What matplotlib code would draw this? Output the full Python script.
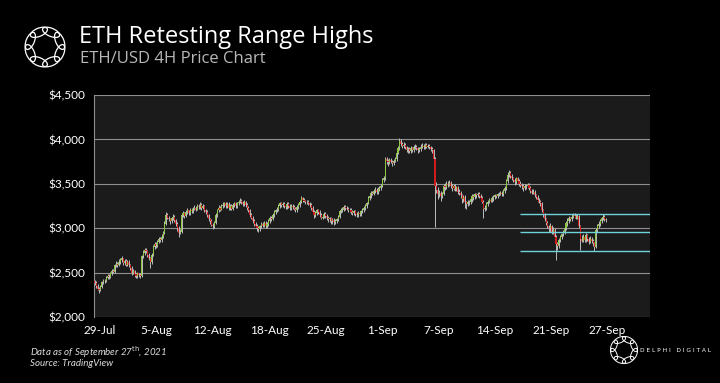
import matplotlib
matplotlib.use("Agg")
import matplotlib.pyplot as plt
from matplotlib.patches import Ellipse
import numpy as np

# ---------------- data (4H candles, 29-Jul .. 27-Sep 2021) ----------------
first_open = 2400
closes = [
    2380, 2350, 2320, 2300, 2340, 2390, 2410, 2400, 2440, 2460,
    2450, 2490, 2520, 2510, 2580, 2600, 2590, 2620, 2640, 2660,
    2610, 2630, 2590, 2620, 2580, 2550, 2500, 2520, 2480, 2460,
    2490, 2470, 2460, 2690, 2720, 2760, 2740, 2700, 2660, 2620,
    2700, 2790, 2820, 2800, 2850, 2880, 2870, 2900, 2950, 3050,
    3150, 3120, 3100, 3080, 3110, 3130, 3090, 3050, 3000, 2950,
    2960, 3150, 3170, 3140, 3180, 3200, 3170, 3210, 3190, 3220,
    3230, 3210, 3250, 3240, 3260, 3230, 3250, 3200, 3180, 3150,
    3100, 3080, 3040, 3020, 3060, 3150, 3200, 3230, 3210, 3250,
    3260, 3280, 3250, 3270, 3230, 3250, 3220, 3260, 3280, 3250,
    3280, 3300, 3310, 3290, 3270, 3300, 3260, 3230, 3200, 3150,
    3120, 3080, 3050, 3030, 3000, 2990, 3020, 3050, 3030, 3060,
    3020, 3050, 3080, 3120, 3100, 3150, 3180, 3200, 3210, 3250,
    3280, 3260, 3270, 3250, 3240, 3270, 3250, 3230, 3250, 3240,
    3220, 3200, 3240, 3260, 3300, 3340, 3320, 3310, 3290, 3300,
    3280, 3260, 3230, 3180, 3150, 3170, 3200, 3180, 3150, 3120,
    3130, 3160, 3140, 3120, 3100, 3110, 3080, 3090, 3070, 3080,
    3100, 3130, 3190, 3200, 3210, 3240, 3230, 3220, 3200, 3210,
    3180, 3170, 3190, 3160, 3150, 3170, 3160, 3190, 3200, 3230,
    3250, 3280, 3340, 3360, 3400, 3390, 3420, 3430, 3410, 3440,
    3450, 3470, 3540, 3560, 3780, 3760, 3740, 3770, 3750, 3730,
    3760, 3780, 3850, 3900, 3980, 3950, 3930, 3940, 3910, 3880,
    3890, 3870, 3900, 3880, 3910, 3920, 3900, 3880, 3890, 3920,
    3930, 3910, 3940, 3920, 3930, 3910, 3890, 3880, 3780, 3470,
    3430, 3380, 3400, 3360, 3390, 3480, 3460, 3500, 3490, 3510,
    3470, 3450, 3480, 3440, 3460, 3410, 3400, 3370, 3330, 3350,
    3290, 3270, 3300, 3290, 3330, 3360, 3350, 3380, 3370, 3390,
    3360, 3340, 3300, 3220, 3230, 3270, 3300, 3320, 3310, 3340,
    3350, 3370, 3360, 3380, 3390, 3400, 3380, 3420, 3450, 3530,
    3600, 3620, 3590, 3560, 3540, 3520, 3560, 3530, 3500, 3490,
    3470, 3450, 3480, 3470, 3490, 3450, 3420, 3400, 3410, 3370,
    3350, 3320, 3300, 3280, 3200, 3150, 3100, 3060, 3020, 3000,
    3020, 2960, 2980, 2900, 2820, 2800, 2870, 2900, 2930, 2960,
    3000, 3060, 3080, 3110, 3100, 3130, 3150, 3140, 3120, 3140,
    3020, 2880, 2860, 2900, 2870, 2920, 2880, 2850, 2880, 2860,
    2830, 2790, 2980, 3020, 3050, 3080, 3110, 3130, 3100, 3090,
]
highs = [
    2420, 2400, 2370, 2340, 2360, 2410, 2430, 2430, 2460, 2480,
    2480, 2510, 2540, 2540, 2600, 2630, 2620, 2650, 2670, 2690,
    2670, 2650, 2650, 2640, 2640, 2600, 2570, 2540, 2530, 2500,
    2510, 2500, 2490, 2700, 2750, 2780, 2780, 2750, 2720, 2680,
    2720, 2810, 2850, 2840, 2870, 2900, 2900, 2930, 2970, 3080,
    3180, 3170, 3140, 3120, 3130, 3160, 3150, 3100, 3070, 3020,
    2990, 3170, 3190, 3180, 3200, 3230, 3210, 3230, 3230, 3240,
    3260, 3250, 3270, 3270, 3290, 3280, 3270, 3260, 3220, 3200,
    3160, 3120, 3100, 3060, 3080, 3170, 3220, 3260, 3250, 3270,
    3290, 3300, 3300, 3290, 3290, 3270, 3270, 3280, 3300, 3300,
    3300, 3320, 3340, 3330, 3310, 3320, 3310, 3280, 3250, 3220,
    3170, 3140, 3100, 3070, 3050, 3030, 3040, 3070, 3070, 3080,
    3080, 3070, 3100, 3140, 3140, 3170, 3200, 3220, 3240, 3270,
    3300, 3300, 3290, 3290, 3270, 3290, 3290, 3270, 3270, 3270,
    3260, 3240, 3260, 3280, 3320, 3360, 3350, 3340, 3320, 3320,
    3320, 3300, 3280, 3250, 3200, 3190, 3220, 3220, 3200, 3170,
    3150, 3180, 3180, 3160, 3140, 3130, 3130, 3110, 3110, 3100,
    3120, 3150, 3210, 3230, 3240, 3260, 3260, 3250, 3240, 3230,
    3230, 3200, 3210, 3210, 3180, 3190, 3190, 3210, 3230, 3250,
    3270, 3300, 3360, 3390, 3420, 3420, 3440, 3460, 3450, 3460,
    3480, 3500, 3560, 3590, 3800, 3800, 3780, 3790, 3790, 3770,
    3780, 3800, 3870, 3930, 4020, 4000, 3970, 3970, 3960, 3930,
    3920, 3910, 3930, 3920, 3940, 3950, 3940, 3920, 3920, 3950,
    3960, 3950, 3960, 3960, 3950, 3950, 3930, 3910, 3890, 3800,
    3520, 3460, 3430, 3420, 3410, 3500, 3510, 3530, 3530, 3540,
    3530, 3500, 3500, 3500, 3480, 3480, 3440, 3420, 3390, 3370,
    3370, 3310, 3320, 3320, 3350, 3380, 3380, 3400, 3400, 3410,
    3410, 3390, 3360, 3320, 3260, 3290, 3320, 3340, 3340, 3360,
    3370, 3390, 3390, 3400, 3410, 3420, 3420, 3440, 3470, 3550,
    3630, 3650, 3640, 3610, 3580, 3560, 3580, 3580, 3550, 3530,
    3510, 3500, 3500, 3500, 3510, 3510, 3470, 3440, 3440, 3430,
    3390, 3370, 3340, 3320, 3290, 3220, 3170, 3120, 3080, 3040,
    3060, 3040, 3010, 3000, 2920, 2850, 2890, 2920, 2950, 2980,
    3020, 3080, 3110, 3140, 3130, 3160, 3170, 3170, 3160, 3160,
    3150, 3040, 2920, 2940, 2920, 2950, 2940, 2900, 2910, 2900,
    2880, 2850, 3000, 3050, 3080, 3100, 3130, 3160, 3150, 3120,
]
lows = [
    2360, 2330, 2300, 2270, 2290, 2330, 2370, 2380, 2390, 2430,
    2430, 2440, 2470, 2490, 2500, 2560, 2560, 2570, 2600, 2620,
    2590, 2590, 2570, 2570, 2560, 2530, 2470, 2480, 2450, 2440,
    2440, 2450, 2440, 2450, 2670, 2700, 2720, 2680, 2640, 2550,
    2600, 2690, 2770, 2780, 2790, 2830, 2850, 2850, 2890, 2940,
    3040, 3100, 3080, 3050, 3060, 3090, 3070, 3020, 2970, 2900,
    2930, 2950, 3130, 3120, 3130, 3160, 3150, 3150, 3170, 3170,
    3200, 3190, 3200, 3220, 3220, 3210, 3220, 3180, 3160, 3130,
    3080, 3050, 3020, 2990, 3000, 3050, 3130, 3180, 3190, 3200,
    3230, 3240, 3230, 3230, 3210, 3200, 3200, 3200, 3240, 3230,
    3230, 3260, 3280, 3270, 3250, 3250, 3240, 3210, 3180, 3130,
    3100, 3060, 3030, 3000, 2970, 2960, 2970, 3000, 3010, 3010,
    3000, 3000, 3030, 3060, 3080, 3090, 3130, 3160, 3180, 3190,
    3230, 3240, 3240, 3230, 3220, 3220, 3230, 3210, 3210, 3220,
    3200, 3180, 3180, 3220, 3240, 3280, 3300, 3290, 3270, 3270,
    3260, 3240, 3210, 3160, 3120, 3130, 3150, 3160, 3130, 3100,
    3100, 3110, 3120, 3090, 3070, 3070, 3050, 3050, 3040, 3050,
    3060, 3080, 3120, 3170, 3180, 3190, 3210, 3200, 3180, 3180,
    3160, 3150, 3150, 3140, 3130, 3130, 3140, 3140, 3170, 3180,
    3210, 3230, 3270, 3320, 3340, 3370, 3370, 3400, 3390, 3390,
    3420, 3430, 3460, 3520, 3540, 3720, 3700, 3720, 3730, 3700,
    3710, 3740, 3760, 3830, 3880, 3930, 3900, 3900, 3890, 3860,
    3850, 3850, 3850, 3860, 3860, 3890, 3880, 3850, 3860, 3870,
    3900, 3890, 3890, 3900, 3900, 3890, 3870, 3850, 3760, 3010,
    3400, 3330, 3350, 3310, 3340, 3370, 3430, 3440, 3460, 3470,
    3450, 3420, 3430, 3420, 3420, 3390, 3370, 3340, 3280, 3300,
    3230, 3220, 3250, 3260, 3270, 3300, 3320, 3330, 3340, 3350,
    3340, 3320, 3280, 3110, 3190, 3210, 3250, 3280, 3290, 3290,
    3310, 3330, 3340, 3340, 3360, 3370, 3360, 3360, 3400, 3430,
    3510, 3580, 3570, 3540, 3520, 3490, 3500, 3510, 3480, 3460,
    3440, 3420, 3430, 3440, 3450, 3430, 3400, 3380, 3380, 3350,
    3330, 3300, 3280, 3250, 3180, 3130, 3080, 3040, 3000, 2960,
    2960, 2940, 2930, 2880, 2640, 2760, 2780, 2840, 2880, 2910,
    2940, 2980, 3030, 3060, 3080, 3080, 3110, 3120, 3100, 3100,
    3000, 2750, 2840, 2840, 2850, 2850, 2860, 2820, 2830, 2830,
    2800, 2740, 2780, 2960, 3000, 3030, 3060, 3090, 3080, 3070,
]
range_levels = [3160, 2960, 2745]
x_labels = ["29-Jul", "5-Aug", "12-Aug", "18-Aug", "25-Aug",
            "1-Sep", "7-Sep", "14-Sep", "21-Sep", "27-Sep"]
y_ticks = [2000, 2500, 3000, 3500, 4000, 4500]

# ---------------- figure ----------------
W, H = 720, 383
fig = plt.figure(figsize=(W / 100, H / 100), dpi=100, facecolor="black")

def fx(px):
    return px / W

def fy(py):
    return 1 - py / H

ax = fig.add_axes([fx(94), fy(317), fx(650) - fx(94), fy(95) - fy(317)])
ax.set_facecolor("#1b1b1b")

closes_a = np.array(closes, dtype=float)
opens_a = np.concatenate([[first_open], closes_a[:-1]])
highs_a = np.maximum(np.array(highs, dtype=float), np.maximum(opens_a, closes_a))
lows_a = np.minimum(np.array(lows, dtype=float), np.minimum(opens_a, closes_a))
idx = np.arange(len(closes_a))

up = closes_a >= opens_a
body_col = np.where(up, "#8dc63f", "#d01c1c")
body_bot = np.minimum(opens_a, closes_a)
body_h = np.maximum(np.abs(closes_a - opens_a), 8)

for yv in y_ticks:
    ax.axhline(yv, color="#8f8f8f", lw=0.8, zorder=1)

ax.vlines(idx, lows_a, highs_a, color="#bdbdbd", lw=0.7, zorder=2)
ax.bar(idx, body_h, bottom=body_bot, width=0.75, color=body_col, lw=0, zorder=3)

for lv in range_levels:
    ax.hlines(lv, 298.5, 390, color="#6fd3dc", lw=1.0, zorder=4)

ax.set_xlim(-0.5, 390)
ax.set_ylim(2000, 4500)
ax.set_yticks(y_ticks)
ax.set_yticklabels([f"${v:,}" for v in y_ticks])
ax.set_xticks([3.7 + 39.6 * k for k in range(len(x_labels))])
ax.set_xticklabels(x_labels)
ax.tick_params(axis="both", colors="white", labelsize=8.5, length=0, pad=6)
for lab in ax.get_xticklabels() + ax.get_yticklabels():
    lab.set_family("Lato")
for s in ["top", "right", "bottom"]:
    ax.spines[s].set_visible(False)
ax.spines["left"].set_color("#8f8f8f")
ax.spines["left"].set_linewidth(0.8)

# ---------------- titles ----------------
fig.text(fx(79), fy(37), "ETH Retesting Range Highs", color="white",
         fontsize=17, family="Open Sans", va="center", ha="left")
fig.text(fx(80), fy(59), "ETH/USD 4H Price Chart", color="#b8b8b8",
         fontsize=12, family="Open Sans", va="center", ha="left")

# footnotes
fig.text(fx(30), fy(352), r"Data as of September 27$^{\mathrm{th}}$, 2021", color="#dddddd",
         fontsize=7, style="italic", family="Lato", va="center", ha="left")
fig.text(fx(30), fy(364), "Source: TradingView", color="#dddddd",
         fontsize=7, style="italic", family="Lato", va="center", ha="left")

# ---------------- logos ----------------
def draw_logo(cx, cy, size, lw):
    lax = fig.add_axes([fx(cx - size / 2), fy(cy + size / 2), size / W, size / H])
    lax.set_xlim(-1.1, 1.1)
    lax.set_ylim(-1.1, 1.1)
    lax.set_aspect("equal")
    lax.axis("off")
    for k in range(8):
        th = 2 * np.pi * k / 8 + np.pi / 8
        cxe, cye = 0.7 * np.cos(th), 0.7 * np.sin(th)
        lax.add_patch(Ellipse((cxe, cye), 0.8, 0.36, angle=np.degrees(th) + 90,
                              fill=False, ec="white", lw=lw))

draw_logo(45, 47, 50, 0.9)
draw_logo(624, 350, 34, 0.7)
fig.text(fx(640), fy(351), "D E L P H I   D I G I T A L", color="white",
         fontsize=4.2, family="DejaVu Sans", va="center", ha="left")

fig.savefig("out.png", dpi=100, facecolor="black")
